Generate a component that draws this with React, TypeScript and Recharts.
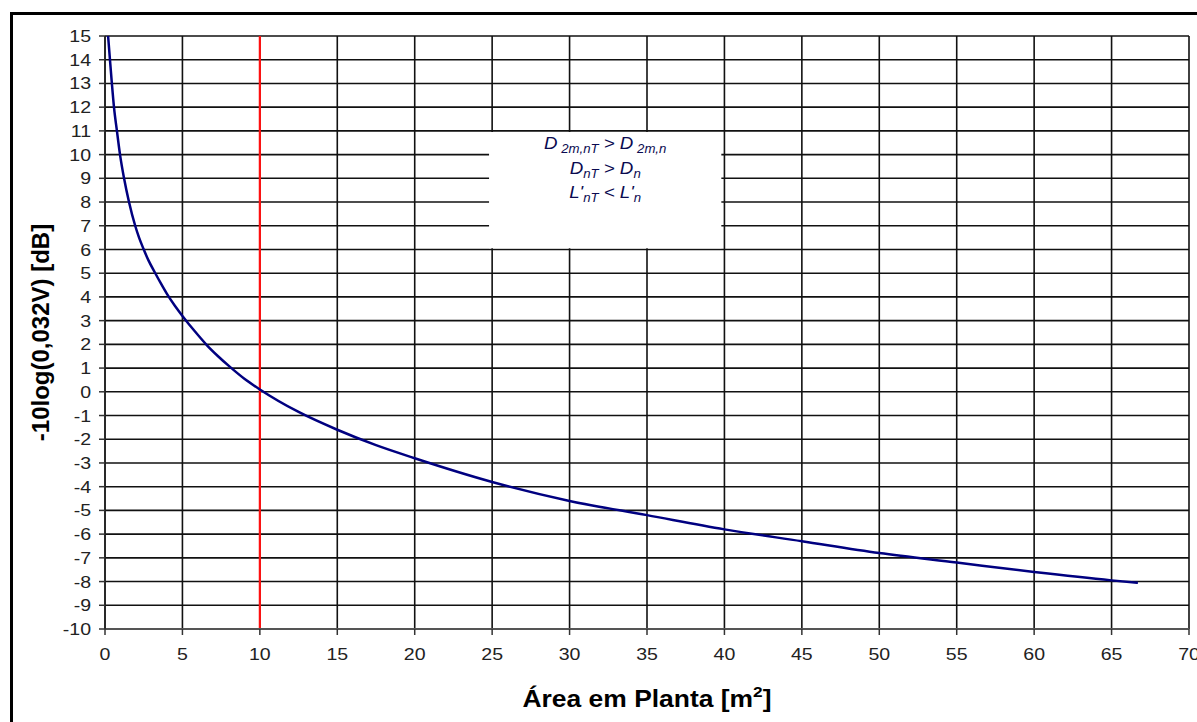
import {
  CartesianGrid,
  Label,
  Line,
  LineChart,
  ReferenceArea,
  ReferenceLine,
  XAxis,
  YAxis,
} from "recharts";

// valores: área em planta [m2] e -10log(0,032V) [dB]
const areaValues = [
  0.2, 0.32, 0.45, 0.58, 0.77, 0.97, 1.23, 1.55, 1.95, 2.2, 2.47, 2.8, 3.23, 3.6,
  4.0, 4.5, 5.0, 5.8, 6.6, 7.3, 8.07, 9, 10, 12.5, 15, 17.5, 20, 25, 30, 35, 40,
  45, 50, 55, 60, 65, 66.7,
];
const dbValues = [
  15, 14, 12.95, 12, 11, 10, 9, 8, 7, 6.5, 6.05, 5.55, 5.02, 4.58, 4.13, 3.64,
  3.2, 2.55, 1.95, 1.5, 1.05, 0.55, 0.1, -0.85, -1.6, -2.25, -2.8, -3.8, -4.6,
  -5.2, -5.8, -6.3, -6.8, -7.2, -7.6, -7.95, -8.05,
];

const xTicks = [0, 5, 10, 15, 20, 25, 30, 35, 40, 45, 50, 55, 60, 65, 70];
const yTicks = [
  -10, -9, -8, -7, -6, -5, -4, -3, -2, -1, 0, 1, 2, 3, 4, 5, 6, 7, 8, 9, 10, 11,
  12, 13, 14, 15,
];

const limitArea = 10;

const data = areaValues.map((a, i) => ({ area: a, db: dbValues[i] }));

const FONT = "Arial, 'Liberation Sans', sans-serif";
const STRETCH = 1.15;

function YTick({ x, y, payload }: any) {
  return (
    <text
      transform={`translate(${x},${y}) scale(${STRETCH},1)`}
      textAnchor="end"
      dominantBaseline="central"
      fontFamily={FONT}
      fontSize={17}
      fill="#222"
    >
      {payload.value}
    </text>
  );
}

function XTick({ x, y, payload }: any) {
  return (
    <text
      transform={`translate(${x},${y}) scale(${STRETCH},1)`}
      textAnchor="middle"
      dy="0.71em"
      fontFamily={FONT}
      fontSize={17}
      fill="#222"
    >
      {payload.value}
    </text>
  );
}

function XTitle({ viewBox }: any) {
  const cx = viewBox.x + viewBox.width / 2;
  return (
    <text
      transform={`translate(${cx},${viewBox.y + 78}) scale(${STRETCH},1)`}
      textAnchor="middle"
      fontFamily={FONT}
      fontWeight="bold"
      fontSize={23}
      fill="#000"
    >
      <tspan>Área em Planta [m</tspan>
      <tspan fontSize={15} dy={-10}>
        2
      </tspan>
      <tspan dy={10}>]</tspan>
    </text>
  );
}

function YTitle({ viewBox }: any) {
  const cy = viewBox.y + viewBox.height / 2;
  return (
    <text
      transform={`translate(40,${cy}) rotate(-90)`}
      textAnchor="middle"
      dominantBaseline="central"
      fontFamily={FONT}
      fontWeight="bold"
      fontSize={24}
      fill="#000"
    >
      -10log(0,032V) [dB]
    </text>
  );
}

function BoxText({ viewBox }: any) {
  const cx = viewBox.x + viewBox.width / 2;
  const top = viewBox.y;
  const main = { fontFamily: FONT, fontStyle: "italic", fill: "#0a0a50" };
  const line = (dy: number) => `translate(${cx},${top + dy}) scale(1.1,1)`;
  return (
    <g>
      <text transform={line(17)} textAnchor="middle" fontSize={17} {...main}>
        <tspan>D</tspan>
        <tspan fontSize={12} dy={4}> 2m,nT</tspan>
        <tspan dy={-4}> &gt; D</tspan>
        <tspan fontSize={12} dy={4}> 2m,n</tspan>
      </text>
      <text transform={line(42)} textAnchor="middle" fontSize={17} {...main}>
        <tspan>D</tspan>
        <tspan fontSize={12} dy={4}>nT</tspan>
        <tspan dy={-4}> &gt; D</tspan>
        <tspan fontSize={12} dy={4}>n</tspan>
      </text>
      <text transform={line(66)} textAnchor="middle" fontSize={17} {...main}>
        <tspan>L'</tspan>
        <tspan fontSize={12} dy={4}>nT</tspan>
        <tspan dy={-4}> &lt; L'</tspan>
        <tspan fontSize={12} dy={4}>n</tspan>
      </text>
    </g>
  );
}

export default function App() {
  return (
    <div
      style={{
        position: "fixed",
        left: 0,
        top: 0,
        width: 1197,
        height: 722,
        background: "#fff",
        overflow: "hidden",
      }}
    >
      <div
        style={{
          position: "absolute",
          left: 10,
          top: 12,
          width: 1200,
          height: 720,
          borderTop: "3px solid #000",
          borderLeft: "3px solid #000",
        }}
      />
      <div style={{ position: "absolute", left: 0, top: 0 }}>
        <LineChart
          width={1197}
          height={722}
          data={data}
          margin={{ top: 36, right: 8, bottom: 63, left: 45 }}
        >
          <CartesianGrid stroke="#111" strokeWidth={1.6} />
          <XAxis
            dataKey="area"
            type="number"
            domain={[0, 70]}
            ticks={xTicks}
            interval={0}
            height={30}
            tickSize={6}
            tickMargin={13}
            tick={<XTick />}
            axisLine={{ stroke: "#555", strokeWidth: 2 }}
            tickLine={{ stroke: "#333", strokeWidth: 1.5 }}
          >
            <Label content={<XTitle />} />
          </XAxis>
          <YAxis
            type="number"
            domain={[-10, 15]}
            ticks={yTicks}
            interval={0}
            width={60}
            tickSize={6}
            tickMargin={8}
            tick={<YTick />}
            axisLine={{ stroke: "#222", strokeWidth: 1.5 }}
            tickLine={{ stroke: "#333", strokeWidth: 1.5 }}
          >
            <Label content={<YTitle />} />
          </YAxis>
          <ReferenceArea
            x1={24.8}
            x2={39.8}
            y1={6.05}
            y2={10.95}
            fill="#fff"
            fillOpacity={1}
            stroke="none"
          >
            <Label content={<BoxText />} />
          </ReferenceArea>
          <ReferenceLine x={limitArea} stroke="#ff1010" strokeWidth={2.2} />
          <Line
            type="monotone"
            dataKey="db"
            stroke="#000080"
            strokeWidth={2.5}
            dot={false}
            isAnimationActive={false}
          />
        </LineChart>
      </div>
    </div>
  );
}
